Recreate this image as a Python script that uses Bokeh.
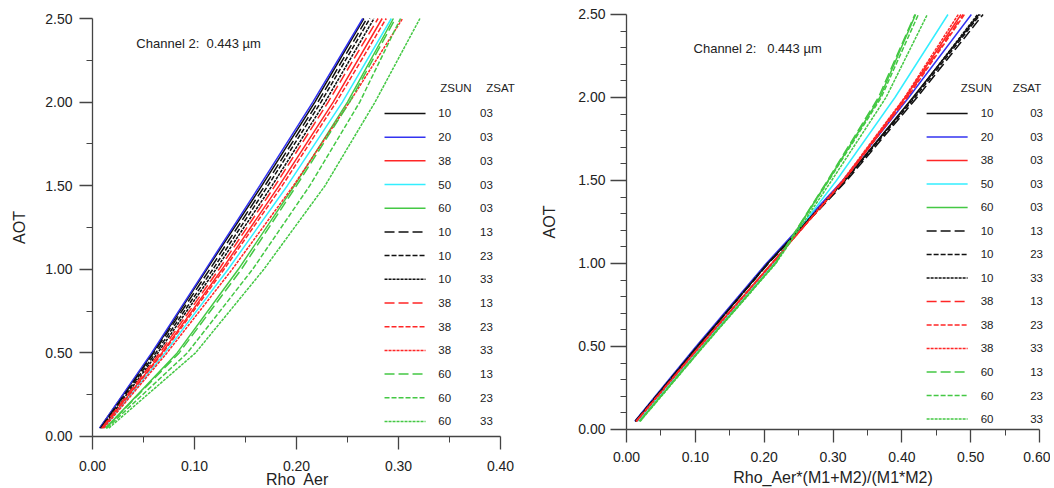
from bokeh.plotting import figure
from bokeh.layouts import row
from bokeh.models import FixedTicker, PrintfTickFormatter, Label
from bokeh.embed import file_html
from bokeh.resources import INLINE

# ---------------- data ----------------
aot = [0.05, 0.5, 1.0, 1.5, 2.0, 2.5]

zsun = ["10", "20", "38", "50", "60", "10", "10", "10", "38", "38", "38", "60", "60", "60"]
zsat = ["03", "03", "03", "03", "03", "13", "23", "33", "13", "23", "33", "13", "23", "33"]

# left panel: Rho_Aer for each (ZSUN, ZSAT)
rho_10_03 = [0.007, 0.059, 0.112, 0.166, 0.218, 0.266]
rho_20_03 = [0.007, 0.058, 0.111, 0.164, 0.216, 0.265]
rho_38_03 = [0.010, 0.068, 0.127, 0.183, 0.236, 0.284]
rho_50_03 = [0.011, 0.071, 0.133, 0.191, 0.245, 0.293]
rho_60_03 = [0.013, 0.083, 0.143, 0.198, 0.250, 0.295]
rho_10_13 = [0.008, 0.060, 0.115, 0.169, 0.221, 0.269]
rho_10_23 = [0.008, 0.062, 0.118, 0.172, 0.224, 0.272]
rho_10_33 = [0.009, 0.064, 0.121, 0.176, 0.228, 0.276]
rho_38_13 = [0.009, 0.066, 0.124, 0.179, 0.231, 0.280]
rho_38_23 = [0.010, 0.069, 0.129, 0.186, 0.239, 0.288]
rho_38_33 = [0.011, 0.073, 0.137, 0.197, 0.252, 0.304]
rho_60_13 = [0.013, 0.085, 0.146, 0.200, 0.252, 0.297]
rho_60_23 = [0.014, 0.093, 0.157, 0.213, 0.262, 0.302]
rho_60_33 = [0.016, 0.101, 0.168, 0.228, 0.277, 0.321]

# right panel: Rho_Aer*(M1+M2)/(M1*M2)
nrm_10_03 = [0.013, 0.103, 0.205, 0.317, 0.416, 0.512]
nrm_20_03 = [0.012, 0.101, 0.203, 0.314, 0.410, 0.501]
nrm_38_03 = [0.014, 0.106, 0.211, 0.315, 0.405, 0.486]
nrm_50_03 = [0.016, 0.108, 0.213, 0.305, 0.390, 0.467]
nrm_60_03 = [0.019, 0.111, 0.216, 0.293, 0.368, 0.420]
nrm_10_13 = [0.013, 0.103, 0.206, 0.320, 0.422, 0.518]
nrm_10_23 = [0.013, 0.103, 0.205, 0.318, 0.419, 0.514]
nrm_10_33 = [0.013, 0.103, 0.205, 0.317, 0.417, 0.510]
nrm_38_13 = [0.014, 0.106, 0.211, 0.316, 0.407, 0.489]
nrm_38_23 = [0.014, 0.106, 0.211, 0.316, 0.408, 0.491]
nrm_38_33 = [0.015, 0.107, 0.212, 0.314, 0.404, 0.482]
nrm_60_13 = [0.019, 0.111, 0.216, 0.292, 0.366, 0.419]
nrm_60_23 = [0.019, 0.111, 0.216, 0.294, 0.370, 0.424]
nrm_60_33 = [0.020, 0.112, 0.217, 0.298, 0.377, 0.437]

left_series = [rho_10_03, rho_20_03, rho_38_03, rho_50_03, rho_60_03,
               rho_10_13, rho_10_23, rho_10_33, rho_38_13, rho_38_23, rho_38_33,
               rho_60_13, rho_60_23, rho_60_33]
right_series = [nrm_10_03, nrm_20_03, nrm_38_03, nrm_50_03, nrm_60_03,
                nrm_10_13, nrm_10_23, nrm_10_33, nrm_38_13, nrm_38_23, nrm_38_33,
                nrm_60_13, nrm_60_23, nrm_60_33]

left_xticks = [0.0, 0.1, 0.2, 0.3, 0.4]
right_xticks = [0.0, 0.1, 0.2, 0.3, 0.4, 0.5, 0.6]
yticks = [0.0, 0.5, 1.0, 1.5, 2.0, 2.5]

# ---------------- styles ----------------
FONT = "Liberation Sans"
TXT = "#222222"
AX = "#444444"
COLORS = {"10": "#111111", "20": "#3333f0", "38": "#ff2626", "50": "#33eeff", "60": "#44c844"}
DASHES = {"03": "solid", "13": "10 4", "23": "5 2", "33": "3 1"}


def base_fig(width, xr, yr, xbounds, xt, xminor, yminor, ytick_out, ylab_so, ytitle_so, xlab_so):
    # the frame fills the whole canvas; axes are drawn at x=0 / y=0
    p = figure(width=width, height=488, x_range=xr, y_range=yr,
               output_backend="svg", toolbar_location=None,
               min_border_left=0, min_border_right=0,
               min_border_top=0, min_border_bottom=0)
    p.outline_line_color = None
    p.grid.visible = False
    p.background_fill_color = "white"
    p.border_fill_color = "white"
    for ax in (p.xaxis[0], p.yaxis[0]):
        ax.axis_line_color = AX
        ax.axis_line_width = 1.3
        ax.major_tick_line_color = AX
        ax.minor_tick_line_color = AX
        ax.major_tick_line_width = 1.3
        ax.minor_tick_line_width = 1.0
        ax.major_tick_in = 0
        ax.minor_tick_in = 0
        ax.minor_tick_out = 6
        ax.major_label_text_font = FONT
        ax.major_label_text_font_size = "14px"
        ax.major_label_text_color = TXT
        ax.formatter = PrintfTickFormatter(format="%.2f")
        ax.axis_label_text_font = FONT
        ax.axis_label_text_font_size = "16px"
        ax.axis_label_text_font_style = "normal"
        ax.axis_label_text_color = TXT
        ax.fixed_location = 0
    p.xaxis.ticker = FixedTicker(ticks=xt, minor_ticks=xminor)
    p.yaxis.ticker = FixedTicker(ticks=yticks, minor_ticks=yminor)
    p.xaxis.bounds = xbounds
    p.yaxis.bounds = (0, 2.5)
    p.xaxis.major_tick_out = 13
    p.yaxis.major_tick_out = ytick_out
    p.xaxis.major_label_standoff = xlab_so
    p.yaxis.major_label_standoff = ylab_so
    p.yaxis.axis_label = "AOT"
    p.yaxis.axis_label_standoff = ytitle_so
    return p


def draw_curves(p, series):
    for vals, s, a in zip(series, zsun, zsat):
        p.line(vals, aot, line_color=COLORS[s], line_dash=DASHES[a], line_width=1.5)


def txt(p, x, y, t, size="11.5px", align="left"):
    p.add_layout(Label(x=x, y=y, text=t, text_font=FONT, text_font_size=size,
                       text_color=TXT, text_baseline="middle", text_align=align))


def draw_legend(p, lx0, lx1, c1x, c2x, c2align, hx1, hx2, hy, ry0, rdy):
    txt(p, hx1, hy, "ZSUN")
    txt(p, hx2, hy, "ZSAT")
    for i, (s, a) in enumerate(zip(zsun, zsat)):
        yy = ry0 - i * rdy
        p.segment(x0=[lx0], y0=[yy], x1=[lx1], y1=[yy], line_color=COLORS[s],
                  line_dash=DASHES[a], line_width=1.5)
        txt(p, c1x, yy, s)
        txt(p, c2x, yy, a, align=c2align)


# ---------------- left panel ----------------
p1 = base_fig(520, (-0.090196, 0.419608), (-0.311005, 2.607656), (0, 0.4), left_xticks,
              [0.05, 0.15, 0.25, 0.35], [0.25, 0.75, 1.25, 1.75, 2.25],
              13, 7, 14, 12)
draw_curves(p1, left_series)
draw_legend(p1, 0.2863, 0.3265, 0.339, 0.380, "left", 0.341, 0.386, 2.087, 1.932, 0.1417)
txt(p1, 0.043, 2.35, "Channel 2:\u00a0 0.443 \u00b5m", size="13px")
txt(p1, 0.201, -0.257, "Rho\u00a0 Aer", size="16px", align="center")

# ---------------- right panel ----------------
p2 = base_fig(530, (-0.153995, 0.615977), (-0.355422, 2.584337), (0, 0.6), right_xticks,
              [0.05, 0.15, 0.25, 0.35, 0.45, 0.55],
              [0.1, 0.2, 0.3, 0.4, 0.6, 0.7, 0.8, 0.9, 1.1, 1.2, 1.3, 1.4,
               1.6, 1.7, 1.8, 1.9, 2.1, 2.2, 2.3, 2.4],
              16, 5, 17, 10)
draw_curves(p2, right_series)
draw_legend(p2, 0.436, 0.4956, 0.5145, 0.605, "right", 0.4855, 0.561, 2.060, 1.904, 0.1416)
txt(p2, 0.0974, 2.295, "Channel 2:\u00a0\u00a0 0.443 \u00b5m", size="13px")
txt(p2, 0.30, -0.289, "Rho_Aer*(M1+M2)/(M1*M2)", size="16px", align="center")

layout = row(p1, p2)
open("out.html", "w").write(file_html(layout, INLINE))
